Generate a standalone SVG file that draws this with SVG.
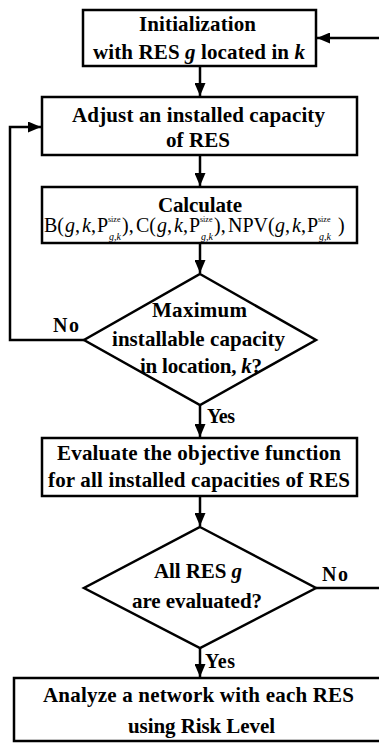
<svg xmlns="http://www.w3.org/2000/svg" width="379" height="743" viewBox="0 0 379 743">
<style>
text{font-family:'Liberation Serif','Times New Roman','DejaVu Serif',serif;fill:#000}
.box{fill:#fff;stroke:#000;stroke-width:2.5}
.lbl{font-weight:bold;font-size:21px}
.sm{font-weight:bold;font-size:20px}
.f{font-size:20px}
.fi{font-size:20px;font-style:italic}
.sup{font-size:8px}
.sub{font-size:10px;font-style:italic}
.it{font-style:italic}
.conn{fill:none;stroke:#000;stroke-width:2.5}
</style>
<defs>
<marker id="arr" markerUnits="userSpaceOnUse" markerWidth="13" markerHeight="11" refX="13" refY="5.5" orient="auto">
<path d="M0,0 L13,5.5 L0,11 z" fill="#000"/>
</marker>
</defs>
<rect width="379" height="743" fill="#fff"/>
<g id="connectors">
<path class="conn" d="M200,66 V96" marker-end="url(#arr)"/>
<path class="conn" d="M200,155 V186" marker-end="url(#arr)"/>
<path class="conn" d="M200,243 V273" marker-end="url(#arr)"/>
<path class="conn" d="M200,405 V437" marker-end="url(#arr)"/>
<path class="conn" d="M84,340 H10 V127 H41" marker-end="url(#arr)"/>
<path class="conn" d="M200,496 V526" marker-end="url(#arr)"/>
<path class="conn" d="M200,648 V677" marker-end="url(#arr)"/>
<path class="conn" d="M316,588 H392 V38 H317" marker-end="url(#arr)"/>
<text class="sm" x="53" y="332" textLength="26">No</text>
<text class="sm" x="207" y="423" textLength="28">Yes</text>
<text class="sm" x="322" y="581" textLength="26">No</text>
<text class="sm" x="205" y="668" textLength="30">Yes</text>
</g>
<g id="init">
<rect class="box" x="83" y="10" width="233" height="56"/>
<text class="lbl" x="139" y="31" textLength="117">Initialization</text>
<text class="lbl" x="93" y="59" textLength="212">with RES <tspan class="it">g</tspan> located in <tspan class="it">k</tspan></text>
</g>
<g id="adjust">
<rect class="box" x="42" y="97" width="315" height="58"/>
<text class="lbl" x="72" y="122" textLength="253">Adjust an installed capacity</text>
<text class="lbl" x="166" y="147" textLength="64">of RES</text>
</g>
<g id="calculate">
<rect class="box" x="42" y="187" width="315" height="56"/>
<text class="lbl" x="158" y="212" textLength="84">Calculate</text>
<text class="f" x="44" y="232">B(</text>
<text class="fi" x="65" y="232">g</text><text class="f" x="75" y="232">,</text>
<text class="fi" x="82" y="232">k</text><text class="f" x="91" y="232">,</text>
<text class="f" x="97" y="232">P</text>
<text class="sup" x="108" y="222">size</text><text class="sub" x="109" y="240">g,k</text>
<text class="f" x="122" y="232">),</text>
<text class="f" x="136" y="232">C(</text>
<text class="fi" x="157" y="232">g</text><text class="f" x="167" y="232">,</text>
<text class="fi" x="174" y="232">k</text><text class="f" x="183" y="232">,</text>
<text class="f" x="189" y="232">P</text>
<text class="sup" x="200" y="222">size</text><text class="sub" x="201" y="240">g,k</text>
<text class="f" x="214" y="232">),</text>
<text class="f" x="228" y="232">NPV(</text>
<text class="fi" x="275" y="232">g</text><text class="f" x="285" y="232">,</text>
<text class="fi" x="292" y="232">k</text><text class="f" x="301" y="232">,</text>
<text class="f" x="307" y="232">P</text>
<text class="sup" x="318" y="222">size</text><text class="sub" x="319" y="240">g,k</text>
<text class="f" x="338" y="232">)</text>
</g>
<g id="decision-max">
<polygon class="box" points="200,274 316,340 200,405 84,340"/>
<text class="lbl" x="152" y="317" textLength="95">Maximum</text>
<text class="lbl" x="112" y="346" textLength="173">installable capacity</text>
<text class="lbl" x="140" y="373" textLength="122">in location, <tspan class="it">k</tspan>?</text>
</g>
<g id="evaluate">
<rect class="box" x="42" y="438" width="315" height="58"/>
<text class="lbl" x="57" y="460" textLength="284">Evaluate the objective function</text>
<text class="lbl" x="48" y="487" textLength="302">for all installed capacities of RES</text>
</g>
<g id="decision-all">
<polygon class="box" points="200,527 316,588 200,648 84,588"/>
<text class="lbl" x="154" y="578" textLength="88">All RES <tspan class="it">g</tspan></text>
<text class="lbl" x="132" y="608" textLength="130">are evaluated?</text>
</g>
<g id="analyze">
<rect class="box" x="14" y="678" width="380" height="63"/>
<text class="lbl" x="43" y="702" textLength="311">Analyze a network with each RES</text>
<text class="lbl" x="128" y="733" textLength="147">using Risk Level</text>
</g>
</svg>
